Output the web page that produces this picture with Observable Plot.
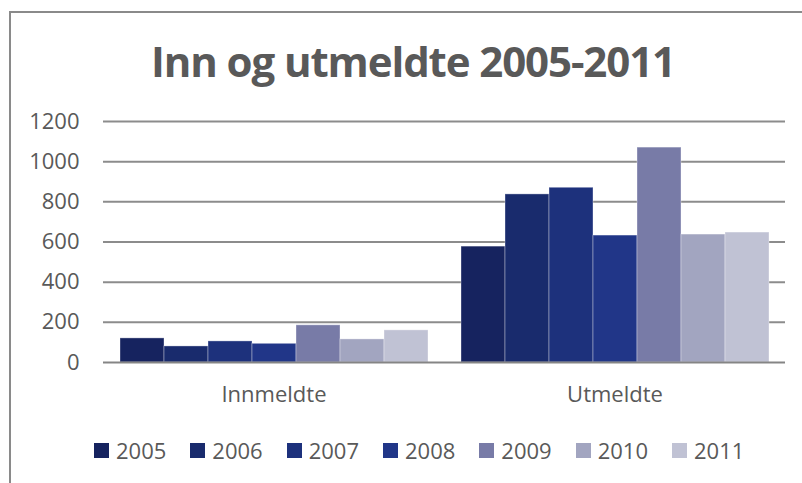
<!DOCTYPE html>
<html>
<head>
<meta charset="utf-8">
<script src="https://cdn.jsdelivr.net/npm/d3@7"></script>
<script src="https://cdn.jsdelivr.net/npm/@observablehq/plot@0.6"></script>
<style>
  html, body { margin: 0; padding: 0; background: #fff; }
  #wrap { position: relative; width: 802px; height: 483px; overflow: hidden; font-family: "Open Sans", sans-serif; }
  #frame { position: absolute; left: 9px; top: 11px; width: 820px; height: 500px; border-left: 2px solid #8a8a8a; border-top: 2px solid #8a8a8a; }
  #title { position: absolute; left: 0; width: 826px; top: 32px; text-align: center; font-size: 42px; line-height: 58px; font-weight: 700; color: #595959; letter-spacing: -1.1px; }
  #chart { position: absolute; left: 0; top: 100px; }
  #legend { position: absolute; left: 94px; top: 435px; width: 760px; }
  #legend > div { display: flex !important; justify-content: flex-start; margin: 0 !important; min-height: 0 !important; }
  #legend span { margin-right: 24px !important; margin-left: 0 !important; }
  #legend svg { margin-right: 7px !important; }
  #chart svg text { font-size: 22px; }
</style>
</head>
<body>
<div id="wrap">
  <div id="frame"></div>
  <div id="title">Inn og utmeldte 2005-2011</div>
  <div id="chart"></div>
  <div id="legend"></div>
</div>
<script>
const categories = ["Innmeldte", "Utmeldte"];
const years = ["2005", "2006", "2007", "2008", "2009", "2010", "2011"];
const innmeldte = [120, 80, 105, 93, 185, 115, 160];
const utmeldte = [577, 837, 870, 632, 1070, 637, 647];
const colors = ["#16235f", "#192b6d", "#1d317c", "#213688", "#787ba7", "#a2a5c0", "#c0c2d4"];
const yTicks = [0, 200, 400, 600, 800, 1000, 1200];

const data = [];
years.forEach((y, i) => data.push({category: categories[0], year: y, value: innmeldte[i]}));
years.forEach((y, i) => data.push({category: categories[1], year: y, value: utmeldte[i]}));

const chart = Plot.plot({
  width: 802,
  height: 320,
  marginTop: 21,
  marginBottom: 58,
  marginLeft: 103,
  marginRight: 17,
  style: {fontFamily: "'Open Sans', sans-serif", fontSize: "22px", color: "#595959", background: "transparent"},
  fx: {domain: categories, padding: 0, label: null, tickSize: 0, tickPadding: 24, axis: "bottom"},
  x: {domain: years, axis: null, paddingInner: 0, paddingOuter: 0.375},
  y: {domain: [0, 1200], ticks: yTicks, label: null, tickSize: 0, tickPadding: 24, tickFormat: d => String(d)},
  color: {domain: years, range: colors},
  marks: [
    Plot.ruleY(yTicks.filter(d => d > 0), {stroke: "#8c8c8c", strokeWidth: 2, strokeOpacity: 1}),
    Plot.barY(data, {fx: "category", x: "year", y: "value", fill: "year", stroke: "#ffffff", strokeOpacity: 0.35, strokeWidth: 1}),
    Plot.ruleY([0], {stroke: "#858585", strokeWidth: 2})
  ]
});
document.getElementById("chart").appendChild(chart);

const legend = Plot.legend({
  color: {domain: years, range: colors},
  swatchSize: 15,
  style: {fontFamily: "'Open Sans', sans-serif", fontSize: "22px", color: "#595959"}
});
document.getElementById("legend").appendChild(legend);
</script>
</body>
</html>
